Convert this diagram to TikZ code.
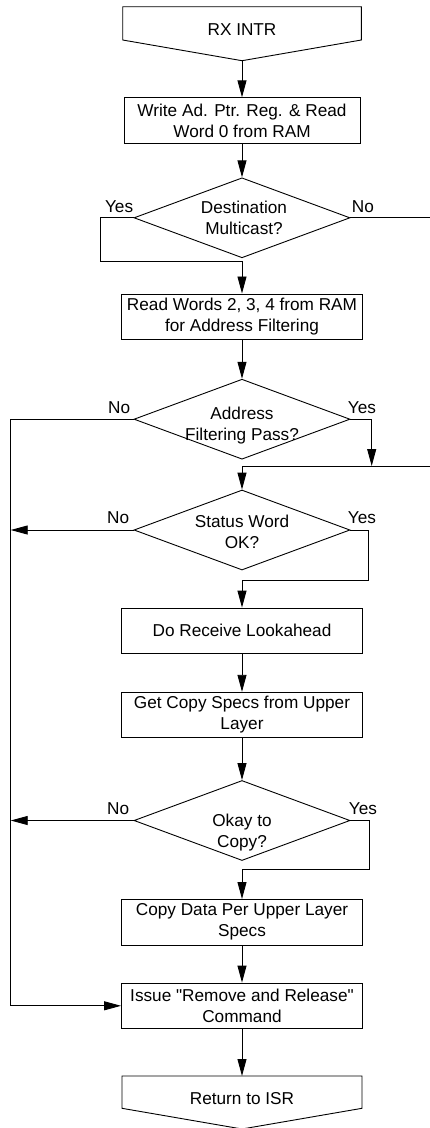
\documentclass[tikz,border=0pt]{standalone}
\usepackage{fontspec}
\setmainfont{Liberation Sans}[Ligatures=TeXOff]
\usetikzlibrary{arrows.meta,
		shapes.geometric}

\tikzset{
  txt/.style={font=\fontsize{17.2}{21}\selectfont, align=center, inner sep=0pt},
  proc/.style={txt, draw, rectangle, minimum width=241pt, minimum height=45.5pt},
  decision/.style={draw, diamond, minimum width=216pt, minimum height=80pt, inner sep=0pt},
  ans/.style={font=\fontsize{17.2}{21}\selectfont, inner sep=0pt},
  arr/.style={-{Triangle[length=17pt,width=9pt]}}
}

\begin{document}
\begin{tikzpicture}[x=1pt, y=-1pt, line width=.9pt]

\useasboundingbox (0,0) rectangle (429,1128);

\node [txt] (start) at (242,30) {RX INTR};
\draw (122.7,6.7) -- (361.3,6.7) -- (361.3,40)
  -- (242,60.7) coordinate (start tip) -- (122.7,40) -- cycle;

\node [proc, minimum width=236pt] (wr) at (242,120.5) {Write Ad. Ptr. Reg. \& Read\\Word 0 from RAM};
\node [decision] (mc) at (242,217.8) {};
\node [txt] (mc txt) at (244,217.5) {Destination\\Multicast?};
\node [proc] (rd) at (242,316.7) {Read Words 2, 3, 4 from RAM\\for Address Filtering};
\node [decision] (af) at (242,419.2) {};
\node [txt] (af txt) at (242,426) {Address\\Filtering Pass?};
\node [decision] (sw) at (242,530) {};
\node [txt] (sw txt) at (242,532) {Status Word\\OK?};
\node [proc] (la) at (242,630.8) {Do Receive Lookahead};
\node [proc] (gc) at (242,715) {Get Copy Specs from Upper\\Layer};
\node [decision] (ok) at (242,820.5) {};
\node [txt] (ok txt) at (242,833) {Okay to\\Copy?};
\node [proc] (cp) at (242,922.2) {Copy Data Per Upper Layer\\Specs};
\node [proc] (rr) at (242,1005.8) {Issue "Remove and Release"\\Command};

\node [txt] (ret) at (242,1099) {Return to ISR};
\draw (122,1076) -- (242,1076) coordinate (ret top) -- (362,1076) -- (362,1108.3)
  -- (242,1129) -- (122,1108.3) -- cycle;

\node [ans, anchor=base east] (mc yes) at ([yshift=5pt]mc.west) {Yes};
\node [ans, anchor=base west] (mc no) at ([xshift=1pt, yshift=5pt]mc.east) {No};
\node [ans, anchor=base east] (af no) at ([xshift=-3pt, yshift=6pt]af.west) {No};
\node [ans, anchor=base west] (af yes) at ([xshift=-3pt, yshift=6pt]af.east) {Yes};
\node [ans, anchor=base east] (sw no) at ([xshift=-4pt, yshift=7pt]sw.west) {No};
\node [ans, anchor=base west] (sw yes) at ([xshift=-3pt, yshift=7pt]sw.east) {Yes};
\node [ans, anchor=base east] (ok no) at ([xshift=-4pt, yshift=6pt]ok.west) {No};
\node [ans, anchor=base west] (ok yes) at ([xshift=-2pt, yshift=6pt]ok.east) {Yes};

\coordinate (rail) at (10.7,0);

\draw [arr] (start tip) -- (wr);
\draw [arr] (wr) -- (mc);
\draw [arr] (mc.west) -- ++(-33.3,0) |- (242,261.7) coordinate (mc join) -- (rd);
\draw (mc.east) -| (431,466) -- (242,466) coordinate (sw join);
\draw [arr] (rd) -- (af);
\draw [arr] (af.west) -| (rail |- rr.west) -- (rr.west);
\draw [arr] (af.east) -| (371.7,466);
\draw [arr] (sw join) -- (sw);
\draw [arr] (sw.west) -- (sw.west -| rail);
\draw [arr] (sw.east) -- ++(18.3,0) |- (242,580.7) coordinate (la join) -- (la);
\draw [arr] (la) -- (gc);
\draw [arr] (gc) -- (ok);
\draw [arr] (ok.west) -- (ok.west -| rail);
\draw [arr] (ok.east) -- ++(19.3,0) |- (242,869) coordinate (cp join) -- (cp);
\draw [arr] (cp) -- (rr);
\draw [arr] (rr) -- (ret top);

\end{tikzpicture}
\end{document}
